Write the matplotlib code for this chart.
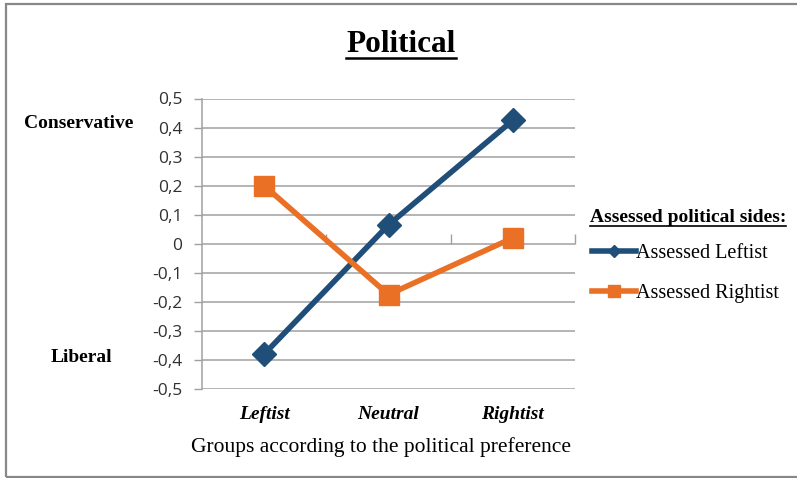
import matplotlib
matplotlib.use("Agg")
import matplotlib.pyplot as plt
from matplotlib.lines import Line2D
from matplotlib.patches import Rectangle

# Data
groups = ["Leftist", "Neutral", "Rightist"]
assessed_leftist = [-0.38, 0.065, 0.425]
assessed_rightist = [0.20, -0.175, 0.02]
y_ticks = [-0.5, -0.4, -0.3, -0.2, -0.1, 0.0, 0.1, 0.2, 0.3, 0.4, 0.5]
y_tick_labels = ["-0,5", "-0,4", "-0,3", "-0,2", "-0,1", "0", "0,1", "0,2", "0,3", "0,4", "0,5"]

BLUE = "#1F4E79"
ORANGE = "#E97025"
GRID = "#A0A0A0"
SERIF = ["Liberation Serif", "DejaVu Serif"]

W, H = 797, 478
fig = plt.figure(figsize=(W / 100, H / 100), dpi=100)
fig.patch.set_facecolor("white")


def fx(px):
    return px / W


def fy(py):
    return 1 - py / H


# outer frame (right side runs past the edge)
fig.add_artist(Rectangle((fx(5.5), fy(476.5)), fx(820) - fx(5.5), fy(3.5) - fy(476.5),
                         transform=fig.transFigure, fill=False, edgecolor="#888888",
                         linewidth=1.6, clip_on=False))

ax = fig.add_axes([fx(202), fy(389), fx(575) - fx(202), fy(98.5) - fy(389)])
x = list(range(len(groups)))

ax.set_xlim(-0.5, len(groups) - 0.5)
ax.set_ylim(-0.5, 0.5)

ax.set_yticks(y_ticks)
ax.set_yticklabels(y_tick_labels, family=["Open Sans", "DejaVu Sans"], fontsize=12.5, color="#303030")
ax.tick_params(axis="y", length=6, width=1, color=GRID, pad=8, direction="out")
ax.yaxis.grid(True, color=GRID, linewidth=1.1)
ax.set_axisbelow(True)

ax.set_xticks(x)
ax.set_xticklabels(groups, family=SERIF, fontsize=14, fontweight="bold", style="italic")
ax.tick_params(axis="x", length=0, pad=12)

for side in ["top", "right", "bottom"]:
    ax.spines[side].set_visible(False)
ax.spines["left"].set_color(GRID)
ax.spines["left"].set_linewidth(1.1)

# category boundary ticks along the zero line
sec = ax.secondary_xaxis(0.5)
sec.set_xticks([0.5, 1.5, 2.5])
sec.set_xticklabels([])
sec.tick_params(axis="x", length=7, width=1, color=GRID, direction="out")
for sp in sec.spines.values():
    sp.set_visible(False)

ax.plot(x, assessed_leftist, color=BLUE, linewidth=4, marker="D", markersize=12,
        zorder=3, clip_on=False)
ax.plot(x, assessed_rightist, color=ORANGE, linewidth=4, marker="s", markersize=14,
        zorder=3, clip_on=False)

ax.set_xlabel("Groups according to the political preference", family=SERIF, fontsize=15.5,
              labelpad=10)
ax.xaxis.set_label_coords(0.481, -0.165)

# side labels
fig.text(fx(79), fy(124), "Conservative", family=SERIF, fontsize=14, fontweight="bold",
         ha="center", va="center")
fig.text(fx(81), fy(357), "Liberal", family=SERIF, fontsize=14, fontweight="bold",
         ha="center", va="center")

# title and legend heading, both underlined
title = fig.text(fx(401), fy(52), "Political", family=SERIF, fontsize=22.5, fontweight="bold",
                 ha="center", va="baseline")
leg_title = fig.text(fx(688), fy(222), "Assessed political sides:", family=SERIF, fontsize=14,
                     fontweight="bold", ha="center", va="baseline")

handles = [
    Line2D([], [], color=BLUE, linewidth=4, marker="D", markersize=6),
    Line2D([], [], color=ORANGE, linewidth=4, marker="s", markersize=9),
]
fig.legend(handles, ["Assessed Leftist", "Assessed Rightist"], loc="upper left",
           bbox_to_anchor=(fx(592), fy(244)), frameon=False,
           prop={"family": SERIF, "size": 14.5}, handlelength=2.2, handletextpad=0.0,
           labelspacing=1.05, borderaxespad=0, borderpad=0)

renderer = fig.canvas.get_renderer()
for txt, base_px, gap, lw in [(title, 52, 6, 1.8), (leg_title, 222, 3.5, 1.2)]:
    bb = txt.get_window_extent(renderer)
    yl = fy(base_px + gap)
    fig.add_artist(Line2D([bb.x0 / W, bb.x1 / W], [yl, yl],
                          transform=fig.transFigure, color="black", linewidth=lw))

fig.savefig("out.png", dpi=100, facecolor="white")
